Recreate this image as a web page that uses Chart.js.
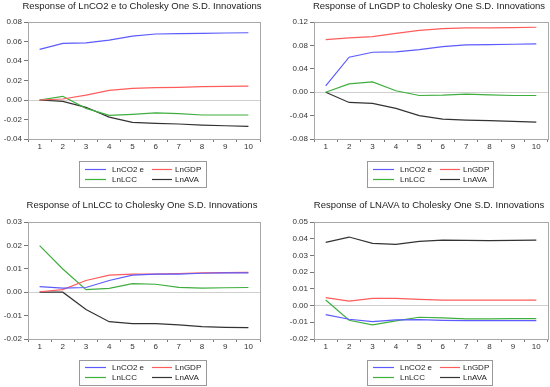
<!DOCTYPE html>
<html>
<head>
<meta charset="utf-8">
<script src="https://cdn.jsdelivr.net/npm/chart.js@4/dist/chart.umd.min.js"></script>
<style>
  html, body { margin: 0; padding: 0; background: #fff; }
  #wrap { position: relative; width: 550px; height: 387px; overflow: hidden; font-family: "Liberation Sans", Arial, sans-serif; }
  canvas { position: absolute; }
  .ttl { position: absolute; font-size: 9.5px; color: #222; white-space: nowrap; transform: translateX(-50%); line-height: 12px; }
</style>
</head>
<body>
<div id="wrap"></div>
<script>
// --- dati (periodi 1..10) ---
const periods = ['1', '2', '3', '4', '5', '6', '7', '8', '9', '10'];
const seriesNames = ['LnCO2 e', 'LnGDP', 'LnLCC', 'LnAVA'];

// risposta di LnCO2 e
const co2_co2 = [0.052, 0.058, 0.0585, 0.0615, 0.0656, 0.0677, 0.068, 0.0684, 0.0687, 0.069];
const co2_gdp = [0, 0.001, 0.005, 0.0099, 0.012, 0.0127, 0.013, 0.0137, 0.014, 0.0143];
const co2_lcc = [0, 0.0038, -0.0086, -0.0157, -0.0147, -0.0133, -0.014, -0.0154, -0.0154, -0.0154];
const co2_ava = [0, -0.0014, -0.0075, -0.0175, -0.023, -0.024, -0.0246, -0.0257, -0.0264, -0.027];

// risposta di LnGDP
const gdp_co2 = [0.0109, 0.0598, 0.0683, 0.0689, 0.0728, 0.078, 0.0808, 0.0814, 0.082, 0.0825];
const gdp_gdp = [0.090, 0.0927, 0.095, 0.1007, 0.1058, 0.1086, 0.1098, 0.11, 0.1103, 0.111];
const gdp_lcc = [0, 0.0143, 0.0177, 0.0024, -0.0056, -0.005, -0.0033, -0.0045, -0.0056, -0.0056];
const gdp_ava = [0, -0.0175, -0.019, -0.0277, -0.040, -0.0459, -0.0476, -0.0487, -0.0499, -0.051];

// risposta di LnLCC
const lcc_co2 = [0.0024, 0.0017, 0.002, 0.005, 0.0073, 0.0077, 0.0077, 0.0081, 0.0083, 0.0083];
const lcc_gdp = [0.0002, 0.0011, 0.005, 0.0073, 0.0077, 0.0077, 0.008, 0.0083, 0.0084, 0.0085];
const lcc_lcc = [0.0199, 0.0099, 0.0011, 0.0016, 0.0037, 0.0034, 0.0021, 0.0017, 0.0019, 0.002];
const lcc_ava = [0, 0, -0.0074, -0.0126, -0.0134, -0.0134, -0.014, -0.0147, -0.015, -0.0151];

// risposta di LNAVA
const ava_co2 = [-0.0054, -0.0082, -0.0096, -0.0086, -0.0084, -0.0088, -0.009, -0.009, -0.009, -0.009];
const ava_gdp = [0.0047, 0.0027, 0.0043, 0.0043, 0.0037, 0.0033, 0.0033, 0.0033, 0.0033, 0.0033];
const ava_lcc = [0.0033, -0.0088, -0.0116, -0.0092, -0.007, -0.0074, -0.008, -0.008, -0.0078, -0.0078];
const ava_ava = [0.0378, 0.041, 0.0372, 0.0366, 0.0384, 0.0392, 0.039, 0.0388, 0.039, 0.0392];

// assi y: [min, max, passo]
const yAxis1 = [-0.04, 0.08, 0.02];
const yAxis2 = [-0.08, 0.12, 0.04];
const yAxis3 = [-0.02, 0.03, 0.01];
const yAxis4 = [-0.02, 0.05, 0.01];

const COLORS = ['#5b5bff', '#ff5c5c', '#3fae3f', '#333333'];
const FONT = "'Liberation Sans', Arial, sans-serif";

// lgd: riquadro legenda, coordinate relative al canvas del pannello
const PANELS = [
  { title: 'Response of LnCO2 e to Cholesky One S.D. Innovations', series: [co2_co2, co2_gdp, co2_lcc, co2_ava], y: yAxis1,
    x: 0, top: 0, area: { l: 28, r: 260, t: 22, b: 139 }, titleX: 142, titleY: 0, lgd: { x: 79, y: 161, w: 128, h: 27, r1: 8 } },
  { title: 'Response of LnGDP to Cholesky One S.D. Innovations', series: [gdp_co2, gdp_gdp, gdp_lcc, gdp_ava], y: yAxis2,
    x: 275, top: 0, area: { l: 39, r: 273, t: 22, b: 139 }, titleX: 429, titleY: 0, lgd: { x: 92, y: 161, w: 127, h: 27, r1: 8 } },
  { title: 'Response of LnLCC to Cholesky One S.D. Innovations', series: [lcc_co2, lcc_gdp, lcc_lcc, lcc_ava], y: yAxis3,
    x: 0, top: 193, area: { l: 28, r: 260, t: 29, b: 146 }, titleX: 142, titleY: 199, lgd: { x: 79, y: 167, w: 128, h: 26, r1: 7 } },
  { title: 'Response of LNAVA to Cholesky One S.D. Innovations', series: [ava_co2, ava_gdp, ava_lcc, ava_ava], y: yAxis4,
    x: 275, top: 193, area: { l: 39, r: 273, t: 29, b: 146 }, titleX: 429, titleY: 199, lgd: { x: 92, y: 167, w: 126, h: 26, r1: 7 } }
];

const CW = 275, CH = 194, AXIS_H = 168;
const wrap = document.getElementById('wrap');

// bordo grigio attorno all'area del grafico
const boxPlugin = {
  id: 'box',
  beforeDatasetsDraw(chart) {
    const a = chart.chartArea, c = chart.ctx;
    c.save();
    c.strokeStyle = '#a8a8a8';
    c.lineWidth = 1;
    c.strokeRect(Math.round(a.left) + 0.5, Math.round(a.top) + 0.5, Math.round(a.right - a.left), Math.round(a.bottom - a.top));
    c.restore();
  }
};

// legenda 2x2 con riquadro, disegnata sul canvas
const legendPlugin = {
  id: 'boxLegend',
  afterDraw(chart, args, opts) {
    const L = opts.box, c = chart.ctx;
    if (!L) return;
    c.save();
    c.fillStyle = '#fff';
    c.fillRect(L.x, L.y, L.w, L.h);
    c.strokeStyle = '#999';
    c.lineWidth = 1;
    c.strokeRect(L.x + 0.5, L.y + 0.5, L.w - 1, L.h - 1);
    const cols = [{ s: 6, e: 27, t: 33 }, { s: 73, e: 93, t: 96 }];
    c.font = '8px ' + FONT;
    c.textBaseline = 'middle';
    chart.data.datasets.forEach((ds, i) => {
      const col = cols[i % 2];
      const yy = L.y + L.r1 + Math.floor(i / 2) * 10;
      c.strokeStyle = ds.borderColor;
      c.lineWidth = 1.2;
      c.beginPath();
      c.moveTo(L.x + col.s, yy + 0.5);
      c.lineTo(L.x + col.e, yy + 0.5);
      c.stroke();
      c.fillStyle = '#222';
      c.fillText(ds.label, L.x + col.t, yy + 1);
    });
    c.restore();
  }
};

PANELS.forEach(p => {
  const cv = document.createElement('canvas');
  cv.width = CW; cv.height = CH;
  cv.style.left = p.x + 'px'; cv.style.top = p.top + 'px';
  cv.style.width = CW + 'px'; cv.style.height = CH + 'px';
  wrap.appendChild(cv);

  const t = document.createElement('div');
  t.className = 'ttl';
  t.style.left = p.titleX + 'px'; t.style.top = p.titleY + 'px';
  t.textContent = p.title;
  wrap.appendChild(t);

  new Chart(cv, {
    type: 'line',
    data: {
      labels: periods,
      datasets: p.series.map((d, i) => ({
        label: seriesNames[i], data: d, borderColor: COLORS[i], backgroundColor: COLORS[i],
        borderWidth: 1.2, pointRadius: 0, tension: 0, fill: false
      }))
    },
    options: {
      responsive: false, animation: false, devicePixelRatio: 1,
      layout: { padding: { top: p.area.t, right: CW - p.area.r, left: 0, bottom: CH - AXIS_H } },
      plugins: {
        legend: { display: false }, title: { display: false }, tooltip: { enabled: false },
        boxLegend: { box: p.lgd }
      },
      scales: {
        x: {
          offset: true,
          grid: { offset: true, drawOnChartArea: false, drawTicks: true, tickLength: 3, tickColor: '#777' },
          border: { display: true, color: '#777' },
          ticks: { color: '#333', font: { family: FONT, size: 8 }, padding: 0, maxRotation: 0 },
          afterFit: s => { s.height = AXIS_H - p.area.b; }
        },
        y: {
          min: p.y[0], max: p.y[1],
          grid: {
            drawTicks: true, tickLength: 4, tickColor: '#777',
            color: c => Math.abs(c.tick.value) < 1e-9 ? '#cfcfcf' : 'rgba(0,0,0,0)', lineWidth: 1
          },
          border: { display: true, color: '#777' },
          ticks: {
            stepSize: p.y[2], color: '#333', padding: 2,
            font: { family: FONT, size: 8 },
            callback: v => v.toFixed(2)
          },
          afterFit: s => { s.width = p.area.l; }
        }
      }
    },
    plugins: [boxPlugin, legendPlugin]
  });
});
</script>
</body>
</html>
